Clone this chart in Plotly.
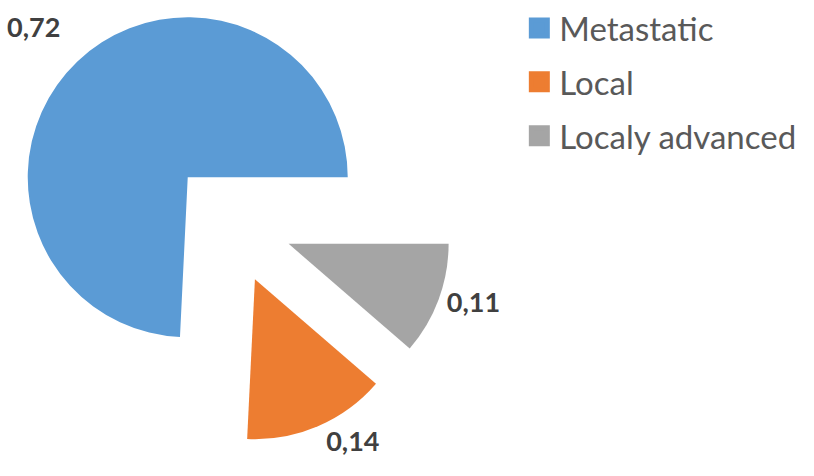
import plotly.graph_objects as go

categories = ["Metastatic", "Local", "Localy advanced"]
values = [0.72, 0.14, 0.11]
colors = ["#5B9BD5", "#ED7D31", "#A5A5A5"]
value_labels = [f"{v:.2f}".replace(".", ",") for v in values]

W, H = 814, 476
cx, cy = 230.5, 222.2
half = 222
pull = 0.3875
rot = 90 + 360 * (values[1] + values[2]) / sum(values)

fig = go.Figure()
fig.add_trace(go.Pie(
    labels=categories, values=values, sort=False,
    direction="counterclockwise", rotation=rot, pull=pull,
    marker=dict(colors=colors),
    text=value_labels, textinfo="text", textposition="outside",
    # extra blank line lifts the first label further away from its slice
    texttemplate=["%{text}<br>\u00a0", "%{text}", "%{text}"],
    textfont=dict(family="Lato", size=27, color="#404040", weight="bold"),
    showlegend=False, hoverinfo="skip",
    domain=dict(x=[(cx - half) / W, (cx + half) / W],
                y=[1 - (cy + half) / H, 1 - (cy - half) / H]),
))
for name, c in zip(categories, colors):
    fig.add_trace(go.Scatter(
        x=[None], y=[None], mode="markers", name=name, legendgroup=name,
        marker=dict(symbol="square", size=16, color=c, line=dict(color=c, width=5)),
        hoverinfo="skip",
    ))

fig.update_layout(
    width=W, height=H, margin=dict(l=0, r=0, t=0, b=0, autoexpand=False),
    paper_bgcolor="white", plot_bgcolor="white",
    xaxis=dict(visible=False), yaxis=dict(visible=False),
    legend=dict(x=0.638, y=1.0, xanchor="left", yanchor="top",
                font=dict(family="Lato", size=33, color="#595959"),
                itemwidth=30, tracegroupgap=8, bgcolor="rgba(0,0,0,0)"),
)
fig.write_html("out.html", config={"displayModeBar": False},
               post_script="document.body.style.margin='0';")
